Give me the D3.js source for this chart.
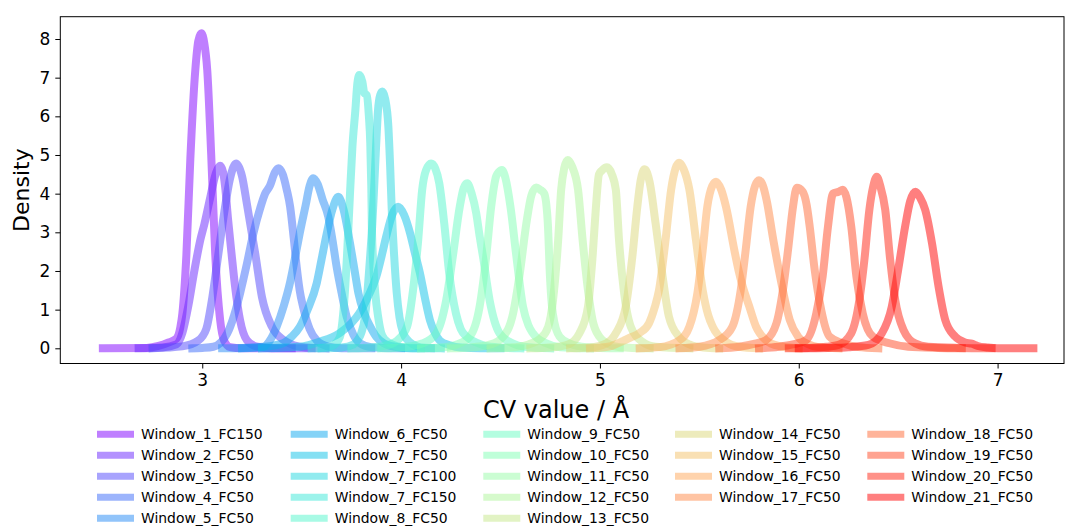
<!DOCTYPE html>
<html>
<head>
<meta charset="utf-8">
<script src="https://cdn.jsdelivr.net/npm/d3@7"></script>
<style>
  body { margin: 0; background: #fff; }
  text { font-family: "DejaVu Sans", sans-serif; fill: #000; }
</style>
</head>
<body>
<svg id="chart" width="1065" height="527"></svg>
<script>
// Series names, in plotting (and legend) order
const seriesNames = [
  "Window_1_FC150", "Window_2_FC50", "Window_3_FC50", "Window_4_FC50", "Window_5_FC50",
  "Window_6_FC50", "Window_7_FC50", "Window_7_FC100", "Window_7_FC150", "Window_8_FC50",
  "Window_9_FC50", "Window_10_FC50", "Window_11_FC50", "Window_12_FC50", "Window_13_FC50",
  "Window_14_FC50", "Window_15_FC50", "Window_16_FC50", "Window_17_FC50",
  "Window_18_FC50", "Window_19_FC50", "Window_20_FC50", "Window_21_FC50"
];

// Density estimates: [CV value (Å), density]
const window1FC150 = [[2.50,0],[2.72,0.01],[2.78,0.06],[2.83,0.15],[2.87,0.25],[2.89,0.55],[2.90,0.9],[2.92,2.4],[2.94,4.9],[2.965,7.2],[2.98,7.95],[2.995,8.15],[3.01,7.9],[3.025,7.2],[3.045,5.0],[3.065,2.45],[3.09,0.73],[3.11,0.2],[3.14,0.03],[3.2,0],[3.45,0]];
const window2FC50 = [[2.68,0],[2.80,0.02],[2.87,0.1],[2.90,0.4],[2.93,1.1],[2.96,2.0],[2.99,2.8],[3.01,3.2],[3.04,3.9],[3.07,4.55],[3.09,4.72],[3.105,4.55],[3.115,4.18],[3.13,3.32],[3.147,2.46],[3.165,1.6],[3.19,0.73],[3.224,0.21],[3.27,0.05],[3.35,0],[3.55,0]];
const window3FC50 = [[2.75,0],[2.90,0.05],[2.98,0.2],[3.02,0.5],[3.05,1.3],[3.08,2.4],[3.11,3.5],[3.14,4.4],[3.17,4.78],[3.2,4.45],[3.224,3.75],[3.245,3.1],[3.266,2.46],[3.3,1.33],[3.35,0.56],[3.41,0.21],[3.46,0.08],[3.52,0.02],[3.62,0]];
const window4FC50 = [[2.95,0],[3.0,0.01],[3.056,0.04],[3.125,0.38],[3.16,0.85],[3.19,1.42],[3.225,2.2],[3.257,2.97],[3.29,3.6],[3.316,4.0],[3.34,4.2],[3.365,4.55],[3.383,4.66],[3.405,4.5],[3.425,4.1],[3.442,3.66],[3.46,2.85],[3.475,2.1],[3.49,1.5],[3.507,1.07],[3.54,0.5],[3.576,0.2],[3.63,0.05],[3.7,0],[3.85,0]];
const window5FC50 = [[3.1,0],[3.2,0.01],[3.307,0.04],[3.34,0.2],[3.374,0.56],[3.41,1.1],[3.44,1.67],[3.465,2.3],[3.49,2.97],[3.52,3.7],[3.54,4.2],[3.558,4.40],[3.58,4.25],[3.605,3.85],[3.634,3.4],[3.655,2.8],[3.676,2.1],[3.7,1.45],[3.726,0.82],[3.76,0.35],[3.793,0.13],[3.85,0.03],[3.95,0],[4.0,0]];
const window6FC50 = [[3.2,0],[3.3,0.03],[3.406,0.13],[3.45,0.3],[3.49,0.55],[3.53,1.0],[3.576,1.69],[3.6,2.3],[3.626,2.97],[3.655,3.6],[3.684,3.92],[3.71,3.6],[3.743,2.72],[3.765,2.05],[3.785,1.43],[3.815,0.9],[3.845,0.56],[3.875,0.3],[3.91,0.14],[3.97,0.04],[4.05,0],[4.15,0]];
const window7FC50 = [[3.3,0],[3.42,0.02],[3.49,0.04],[3.59,0.17],[3.69,0.39],[3.75,0.65],[3.79,0.91],[3.835,1.35],[3.875,1.85],[3.905,2.45],[3.925,2.89],[3.955,3.45],[3.985,3.66],[4.015,3.45],[4.045,2.98],[4.07,2.45],[4.095,1.94],[4.12,1.3],[4.145,0.73],[4.17,0.4],[4.195,0.2],[4.245,0.08],[4.3,0.02],[4.4,0],[4.5,0]];
const window7FC100 = [[3.6,0],[3.7,0.02],[3.76,0.1],[3.78,0.2],[3.80,0.4],[3.818,0.8],[3.83,1.4],[3.843,2.28],[3.855,3.2],[3.863,4.0],[3.874,5.2],[3.884,6.16],[3.895,6.55],[3.906,6.64],[3.92,6.45],[3.936,5.73],[3.945,4.7],[3.953,3.58],[3.965,2.4],[3.978,1.43],[3.992,0.8],[4.01,0.4],[4.035,0.2],[4.06,0.1],[4.1,0.02],[4.2,0]];
const window7FC150 = [[3.55,0],[3.62,0.02],[3.66,0.08],[3.692,0.29],[3.705,0.7],[3.717,1.43],[3.73,2.6],[3.743,4.0],[3.755,5.2],[3.77,6.16],[3.78,6.85],[3.79,7.07],[3.805,6.9],[3.815,6.6],[3.827,6.55],[3.838,6.0],[3.845,5.3],[3.85,4.2],[3.853,3.14],[3.86,2.2],[3.87,1.43],[3.885,0.8],[3.9,0.4],[3.92,0.22],[3.94,0.14],[3.98,0.05],[4.03,0.01],[4.1,0]];
const window8FC50 = [[3.75,0],[3.85,0.02],[3.93,0.08],[3.98,0.2],[4.03,0.56],[4.06,1.5],[4.086,2.8],[4.106,4.1],[4.125,4.6],[4.151,4.78],[4.172,4.65],[4.192,4.27],[4.217,3.23],[4.242,1.94],[4.276,0.9],[4.3,0.5],[4.33,0.3],[4.378,0.15],[4.45,0.04],[4.6,0]];
const window9FC50 = [[3.9,0],[4.0,0.02],[4.11,0.13],[4.177,0.39],[4.227,1.25],[4.26,2.37],[4.295,3.66],[4.315,4.15],[4.332,4.27],[4.355,4.0],[4.378,3.49],[4.395,2.9],[4.412,2.37],[4.445,1.25],[4.47,0.7],[4.495,0.39],[4.56,0.13],[4.62,0.04],[4.75,0]];
const window10FC50 = [[4.1,0],[4.2,0.02],[4.28,0.1],[4.345,0.3],[4.395,1.08],[4.428,2.37],[4.453,3.66],[4.478,4.45],[4.49,4.55],[4.507,4.61],[4.525,4.4],[4.55,3.66],[4.58,2.37],[4.613,1.08],[4.64,0.6],[4.663,0.39],[4.73,0.13],[4.8,0.03],[4.95,0]];
const window11FC50 = [[4.25,0],[4.35,0.02],[4.45,0.1],[4.513,0.3],[4.563,0.9],[4.597,1.94],[4.63,3.23],[4.655,3.95],[4.68,4.16],[4.70,4.1],[4.72,4.0],[4.738,3.23],[4.748,1.94],[4.763,0.9],[4.797,0.3],[4.85,0.12],[4.93,0.03],[5.1,0]];
const window12FC50 = [[4.45,0],[4.55,0.02],[4.64,0.1],[4.7,0.25],[4.74,0.56],[4.763,1.2],[4.775,1.8],[4.79,2.8],[4.805,4.1],[4.82,4.65],[4.838,4.87],[4.86,4.7],[4.89,4.1],[4.913,2.8],[4.94,1.5],[4.963,0.73],[4.997,0.3],[5.04,0.12],[5.1,0.03],[5.25,0]];
const window13FC50 = [[4.65,0],[4.75,0.02],[4.84,0.1],[4.897,0.39],[4.94,1.08],[4.963,2.37],[4.98,3.66],[4.995,4.5],[5.01,4.6],[5.035,4.68],[5.06,4.5],[5.08,4.1],[5.096,2.8],[5.12,1.5],[5.155,0.56],[5.213,0.17],[5.28,0.04],[5.45,0]];
const window14FC50 = [[4.85,0],[4.95,0.02],[5.03,0.12],[5.08,0.39],[5.13,1.08],[5.163,2.37],[5.188,3.66],[5.205,4.35],[5.225,4.63],[5.25,4.3],[5.28,3.23],[5.313,1.94],[5.347,0.82],[5.397,0.3],[5.45,0.1],[5.52,0.02],[5.6,0]];
const window15FC50 = [[4.95,0],[5.05,0.05],[5.12,0.2],[5.163,0.3],[5.2,0.4],[5.247,0.65],[5.275,1.05],[5.297,1.5],[5.33,2.8],[5.358,4.1],[5.38,4.65],[5.398,4.8],[5.42,4.65],[5.45,4.1],[5.483,2.8],[5.517,1.5],[5.545,0.85],[5.567,0.56],[5.634,0.17],[5.7,0.04],[5.8,0]];
const window16FC50 = [[5.2,0],[5.3,0.03],[5.4,0.21],[5.45,0.56],[5.49,1.42],[5.517,2.54],[5.54,3.66],[5.565,4.2],[5.584,4.31],[5.61,4.1],[5.634,3.66],[5.676,2.54],[5.698,2.0],[5.718,1.6],[5.75,1.1],[5.785,0.56],[5.835,0.21],[5.9,0.06],[6.0,0]];
const window17FC50 = [[5.4,0],[5.5,0.04],[5.6,0.21],[5.666,0.56],[5.708,1.5],[5.733,2.54],[5.758,3.66],[5.78,4.2],[5.8,4.35],[5.82,4.2],[5.838,3.84],[5.872,2.8],[5.913,1.68],[5.955,0.73],[5.997,0.3],[6.05,0.1],[6.1,0.03],[6.2,0]];
const window18FC50 = [[5.6,0],[5.7,0.04],[5.78,0.12],[5.835,0.21],[5.888,0.65],[5.92,1.5],[5.946,2.54],[5.971,3.66],[5.99,4.15],[6.02,4.05],[6.04,3.7],[6.055,3.15],[6.08,2.03],[6.113,0.99],[6.155,0.3],[6.222,0.13],[6.3,0.03],[6.4,0]];
const window19FC50 = [[5.8,0],[5.9,0.04],[5.97,0.1],[6.037,0.21],[6.088,0.9],[6.12,1.85],[6.147,3.15],[6.172,4.0],[6.2,4.05],[6.222,4.1],[6.24,3.9],[6.264,3.15],[6.29,1.85],[6.322,0.9],[6.373,0.3],[6.456,0.13],[6.55,0.04],[6.7,0.01],[6.82,0]];
const window20FC50 = [[5.95,0],[6.05,0.01],[6.14,0.04],[6.2,0.09],[6.264,0.39],[6.305,1.25],[6.33,2.28],[6.355,3.58],[6.375,4.2],[6.392,4.44],[6.41,4.2],[6.435,3.58],[6.46,2.28],[6.485,1.25],[6.527,0.47],[6.585,0.13],[6.65,0.04],[6.8,0.01],[6.97,0]];
const window21FC50 = [[6.0,0],[6.15,0.01],[6.25,0.03],[6.35,0.09],[6.418,0.39],[6.468,1.08],[6.5,2.03],[6.535,3.15],[6.56,3.8],[6.587,4.05],[6.61,3.9],[6.636,3.58],[6.67,2.72],[6.703,1.6],[6.737,0.73],[6.787,0.3],[6.837,0.15],[6.87,0.12],[6.9,0.06],[6.95,0.02],[7.0,0],[7.18,0]];

const seriesPoints = [
  window1FC150, window2FC50, window3FC50, window4FC50, window5FC50,
  window6FC50, window7FC50, window7FC100, window7FC150, window8FC50,
  window9FC50, window10FC50, window11FC50, window12FC50, window13FC50,
  window14FC50, window15FC50, window16FC50, window17FC50,
  window18FC50, window19FC50, window20FC50, window21FC50
];

const xTickValues = [3, 4, 5, 6, 7];
const yTickValues = [0, 1, 2, 3, 4, 5, 6, 7, 8];
const xAxisTitle = "CV value / Å";
const yAxisTitle = "Density";

// Matplotlib-style "rainbow" colormap: red |2t-0.5|, green sin(pi t), blue cos(pi t / 2)
function rainbow(t) {
  const clip = v => Math.max(0, Math.min(1, v));
  const r = clip(Math.abs(2 * t - 0.5));
  const g = clip(Math.sin(Math.PI * t));
  const b = clip(Math.cos(Math.PI * t / 2));
  return d3.rgb(r * 255, g * 255, b * 255).formatHex();
}

const svg = d3.select("#chart");
const plot = { left: 60.3, right: 1064, top: 16.7, bottom: 363.5 };

const x = d3.scaleLinear().domain([2.286, 7.334]).range([plot.left, plot.right]);
const y = d3.scaleLinear().domain([-0.393, 8.577]).range([plot.bottom, plot.top]);
const color = i => rainbow(i / (seriesNames.length - 1));

const lineGen = d3.line()
  .x(d => x(d[0]))
  .y(d => y(d[1]))
  .curve(d3.curveMonotoneX);

// Density curves
svg.append("g")
  .selectAll("path")
  .data(seriesPoints)
  .join("path")
  .attr("d", lineGen)
  .attr("fill", "none")
  .attr("stroke", (d, i) => color(i))
  .attr("stroke-opacity", 0.5)
  .attr("stroke-width", 8)
  .attr("stroke-linejoin", "round")
  .attr("stroke-linecap", "square");

// Axes
const xAxis = svg.append("g")
  .attr("transform", `translate(0,${plot.bottom})`)
  .call(d3.axisBottom(x).tickValues(xTickValues).tickSize(5).tickPadding(5).tickFormat(d3.format("d")));
const yAxis = svg.append("g")
  .attr("transform", `translate(${plot.left},0)`)
  .call(d3.axisLeft(y).tickValues(yTickValues).tickSize(5).tickPadding(5).tickFormat(d3.format("d")));
[xAxis, yAxis].forEach(g => {
  g.select(".domain").remove();
  g.selectAll(".tick line").attr("stroke", "#000").attr("stroke-width", 1);
  g.selectAll(".tick text").attr("font-size", 17).attr("font-family", "DejaVu Sans").attr("fill", "#000");
});

// Frame
svg.append("rect")
  .attr("x", plot.left).attr("y", plot.top)
  .attr("width", plot.right - plot.left).attr("height", plot.bottom - plot.top)
  .attr("fill", "none").attr("stroke", "#000").attr("stroke-width", 1);

// Axis titles
svg.append("text")
  .attr("x", 556).attr("y", 418)
  .attr("text-anchor", "middle").attr("font-size", 24)
  .text(xAxisTitle);
svg.append("text")
  .attr("transform", `translate(29,${(plot.top + plot.bottom) / 2}) rotate(-90)`)
  .attr("text-anchor", "middle").attr("font-size", 22)
  .text(yAxisTitle);

// Legend: five columns, filled column by column
const legendCols = [97, 290.7, 483.3, 675, 867.3];
const legendRowsPerCol = [5, 5, 5, 4, 4];
const legendItems = [];
let k = 0;
legendRowsPerCol.forEach((n, c) => {
  for (let r = 0; r < n; r++) legendItems.push({ i: k++, c, r });
});
const legend = svg.append("g");
const item = legend.selectAll("g").data(legendItems).join("g")
  .attr("transform", d => `translate(${legendCols[d.c]},${434.3 + d.r * 21})`);
item.append("line")
  .attr("x1", 0).attr("x2", 37).attr("y1", 0).attr("y2", 0)
  .attr("stroke", d => color(d.i)).attr("stroke-opacity", 0.5).attr("stroke-width", 7);
item.append("text")
  .attr("x", 44).attr("dy", "0.36em").attr("font-size", 13.9)
  .text(d => seriesNames[d.i]);
</script>
</body>
</html>
